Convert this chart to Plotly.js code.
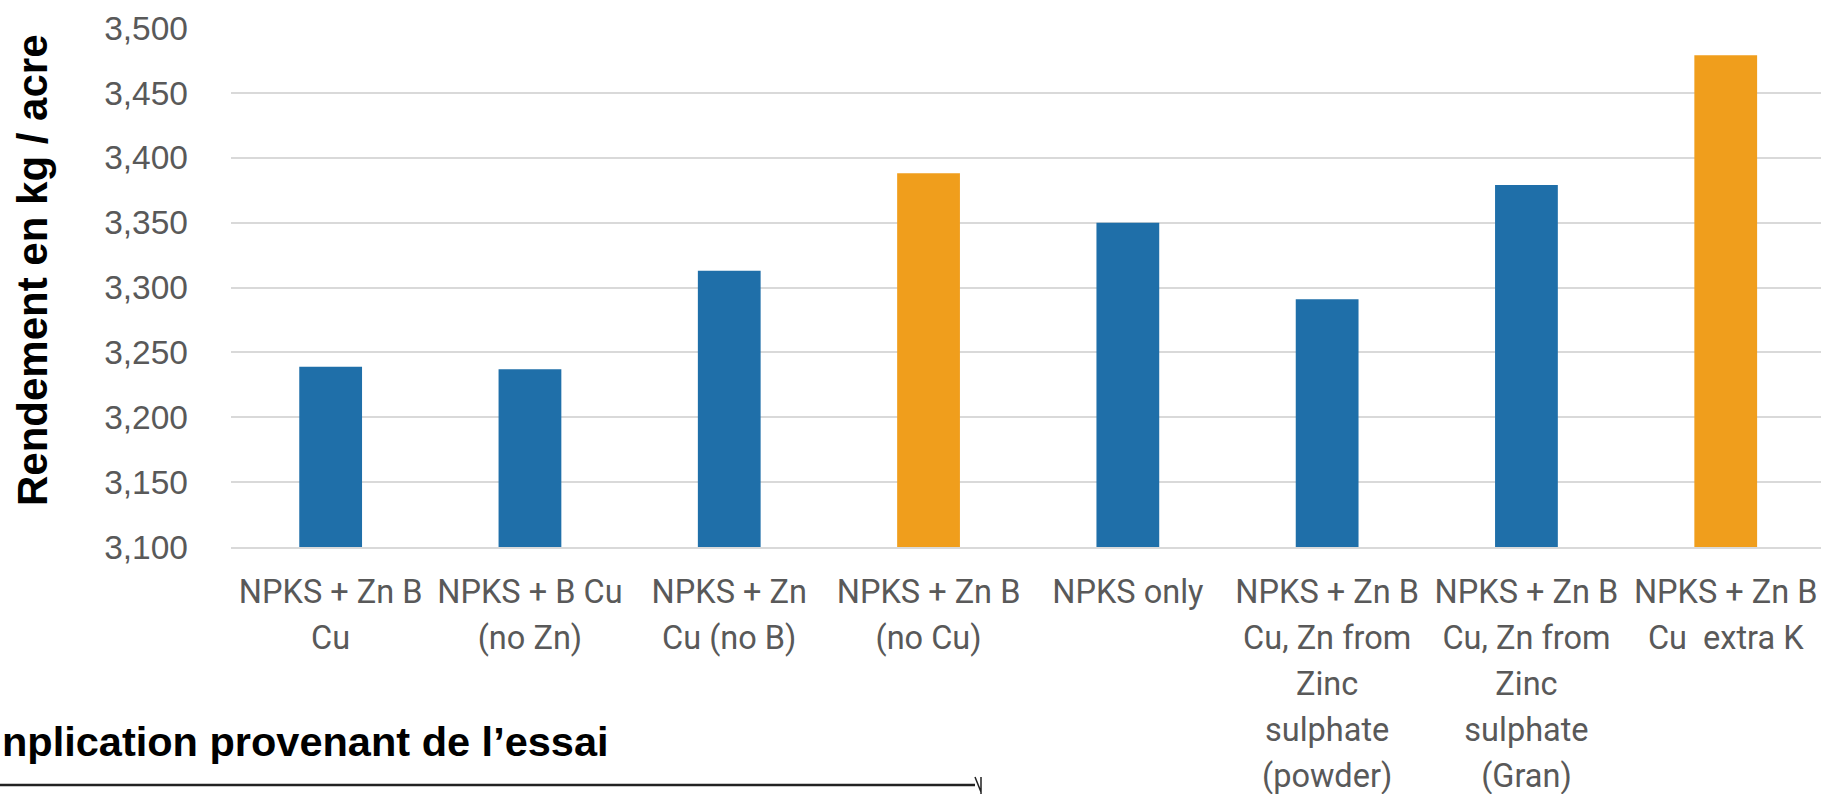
<!DOCTYPE html>
<html>
<head>
<meta charset="utf-8">
<script src="https://cdn.plot.ly/plotly-3.0.1.min.js"></script>
<style>html,body{margin:0;padding:0;background:#fff;}#chart{width:1821px;height:794px;}</style>
</head>
<body>
<div id="chart"></div>
<script>
// ---- data ----
const categories = [
  'NPKS + Zn B Cu',
  'NPKS + B Cu (no Zn)',
  'NPKS + Zn Cu (no B)',
  'NPKS + Zn B (no Cu)',
  'NPKS only',
  'NPKS + Zn B Cu, Zn from Zinc sulphate (powder)',
  'NPKS + Zn B Cu, Zn from Zinc sulphate (Gran)',
  'NPKS + Zn B Cu extra K'
];
const tickLabels = [
  'NPKS + Zn B<br>Cu',
  'NPKS + B Cu<br>(no Zn)',
  'NPKS + Zn<br>Cu (no B)',
  'NPKS + Zn B<br>(no Cu)',
  'NPKS only',
  'NPKS + Zn B<br>Cu, Zn from<br>Zinc<br>sulphate<br>(powder)',
  'NPKS + Zn B<br>Cu, Zn from<br>Zinc<br>sulphate<br>(Gran)',
  'NPKS + Zn B<br>Cu\u00a0 extra K'
];
const yieldKgPerAcre = [3239, 3237, 3313, 3388, 3350, 3291, 3379, 3479];
const highlighted = ['NPKS + Zn B (no Cu)', 'NPKS + Zn B Cu extra K'];
const yTitle = 'Rendement en kg / acre';
const noteText = 'nplication provenant de l\u2019essai';

// ---- style ----
const BLUE = '#1F6FA9', ORANGE = '#F09E1C';
const barColors = categories.map(c => highlighted.includes(c) ? ORANGE : BLUE);

const W = 1821, H = 794;
const M = {l: 231, r: 0, t: 28, b: 247};
const pw = W - M.l - M.r, ph = H - M.t - M.b;
const px = x => (x - M.l) / pw;          // pixel -> paper x
const py = y => (H - M.b - y) / ph;      // pixel -> paper y

// narrower glyphs inside each line, while line spacing follows the tick font size
const styledTicks = tickLabels.map(t =>
  t.split('<br>').map(s => '<span style="font-size:32.5px">' + s + '</span>').join('<br>'));

const trace = {
  type: 'bar',
  x: categories,
  y: yieldKgPerAcre,
  width: 0.315,
  marker: {color: barColors, line: {width: 0}},
  hoverinfo: 'x+y'
};

const layout = {
  width: W, height: H,
  margin: M,
  paper_bgcolor: '#ffffff',
  plot_bgcolor: '#ffffff',
  showlegend: false,
  xaxis: {
    type: 'category',
    range: [-0.5, 7.478],
    tickvals: categories,
    ticktext: styledTicks,
    tickangle: 0,
    ticks: '',
    showgrid: false,
    showline: true,
    linecolor: '#D9D9D9',
    linewidth: 2,
    zeroline: false,
    tickfont: {family: 'Roboto, "Liberation Sans", Arial, sans-serif', size: 35.5, color: '#595959'},
    ticklabelstandoff: 11
  },
  yaxis: {
    range: [3100, 3500],
    tick0: 3100,
    dtick: 50,
    tickformat: ',d',
    ticks: '',
    showgrid: true,
    gridcolor: '#D9D9D9',
    gridwidth: 2,
    zeroline: false,
    showline: false,
    tickfont: {family: '"Liberation Sans", Arial, sans-serif', size: 33.5, color: '#595959'},
    ticklabelstandoff: 42
  },
  annotations: [
    {
      text: '<b>' + yTitle + '</b>',
      xref: 'paper', yref: 'paper',
      x: px(32), y: py(270),
      xanchor: 'center', yanchor: 'middle',
      textangle: -90,
      showarrow: false,
      font: {family: '"Liberation Sans", Arial, sans-serif', size: 42, color: '#000000'}
    },
    {
      text: '<b>' + noteText + '</b>',
      xref: 'paper', yref: 'paper',
      x: px(0), y: py(741),
      xanchor: 'left', yanchor: 'middle',
      showarrow: false,
      font: {family: '"Liberation Sans", Arial, sans-serif', size: 41.5, color: '#000000'}
    }
  ],
  shapes: [
    {type: 'line', xref: 'paper', yref: 'paper', x0: px(0), x1: px(975), y0: py(785), y1: py(785),
     line: {color: '#222222', width: 2.5}},
    {type: 'path', xref: 'paper', yref: 'paper',
     path: 'M' + px(975) + ',' + py(777) + ' L' + px(981) + ',' + py(792) + ' M' + px(981) + ',' + py(777) + ' L' + px(981) + ',' + py(794),
     line: {color: '#222222', width: 1.5}}
  ]
};

Plotly.newPlot('chart', [trace], layout, {displayModeBar: false, responsive: false});
</script>
</body>
</html>
